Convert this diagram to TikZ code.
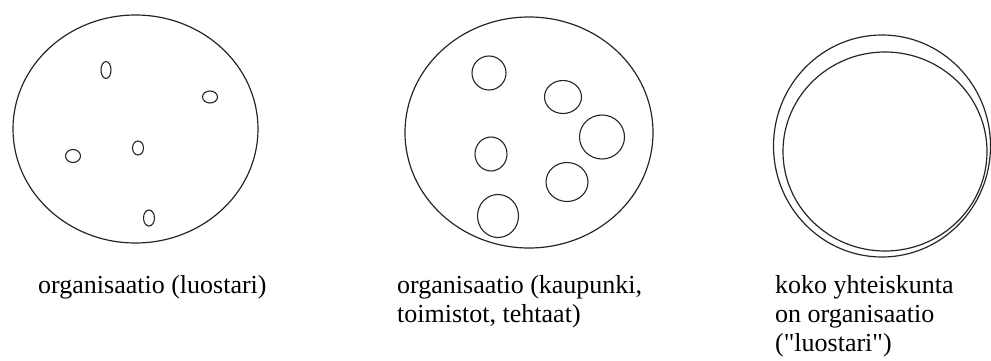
\documentclass[tikz,border=0pt]{standalone}
\usepackage{fontspec}
\setmainfont{Liberation Serif}[Ligatures=TeXOff]
\tikzset{
  ring/.style={draw=black!85, line width=1.2pt},
  blob/.style={draw=black!85, line width=1.1pt},
  lbl/.style={anchor=base west, inner sep=0pt, font=\fontsize{26}{29}\selectfont}
}
\begin{document}
\begin{tikzpicture}[x=1pt,y=-1pt]
\useasboundingbox (0,0) rectangle (991,361);
% panel 1
\draw[ring] (135.5,129) ellipse [x radius=122.5, y radius=114];
\draw[blob] (106,70) ellipse [x radius=5, y radius=8.5];
\draw[blob] (210,97) ellipse [x radius=7.5, y radius=6];
\draw[blob] (138,148) ellipse [x radius=5.5, y radius=7];
\draw[blob] (73,156) ellipse [x radius=7.5, y radius=6.5];
\draw[blob] (149,218) ellipse [x radius=5.5, y radius=8];
% panel 2
\draw[ring] (529,132.5) ellipse [x radius=124, y radius=115.5];
\draw[blob] (489,73) ellipse [x radius=17, y radius=17];
\draw[blob] (563,97) ellipse [x radius=18.5, y radius=16.5];
\draw[blob] (602,137) ellipse [x radius=22.5, y radius=22];
\draw[blob] (491,154) ellipse [x radius=16, y radius=17];
\draw[blob] (567,182) ellipse [x radius=21, y radius=19.5];
\draw[blob] (498,216) ellipse [x radius=20.5, y radius=21.5];
% panel 3
\draw[ring] (882,146) ellipse [x radius=108.5, y radius=111];
\draw[ring] (885,151.5) ellipse [x radius=102, y radius=99.5];
% labels
\node[lbl] (t1) at (38,293) {organisaatio (luostari)};
\node[lbl] (t2a) at (397,293) {organisaatio (kaupunki,};
\node[lbl] (t2b) at (397,322) {toimistot, tehtaat)};
\node[lbl] (t3a) at (775,293) {koko yhteiskunta};
\node[lbl] (t3b) at (775,322) {on organisaatio};
\node[lbl] (t3c) at (775,351) {("luostari")};
\end{tikzpicture}
\end{document}
